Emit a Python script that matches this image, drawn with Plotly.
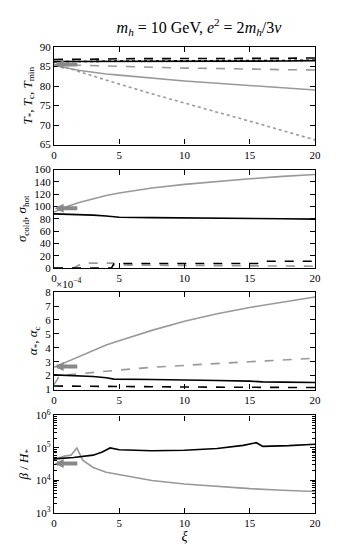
import math
import plotly.graph_objects as go
from plotly.subplots import make_subplots

# ---------- data ----------
xi = [0, 1, 2, 3, 4, 5, 7.5, 10, 12.5, 15, 17.5, 20]

# Panel 1: temperatures
T_star_hot = [85.5, 84.6, 84.0, 83.5, 83.1, 82.8, 82.0, 81.3, 80.7, 80.1, 79.5, 79.0]       # grey solid
T_c_hot = [85.5, 85.4, 85.3, 85.2, 85.1, 85.0, 84.8, 84.6, 84.5, 84.3, 84.2, 84.1]           # grey dashed
T_min_hot = [85.5, 84.7, 83.6, 82.5, 81.5, 80.5, 78.0, 75.6, 73.3, 71.0, 68.6, 66.2]         # grey dotted
T_star_cold = [86.3, 86.3, 86.3, 86.3, 86.3, 86.3, 86.4, 86.4, 86.4, 86.4, 86.4, 86.5]      # black solid
T_c_cold = [86.8, 86.8, 86.9, 86.9, 86.9, 87.0, 87.0, 87.0, 87.1, 87.1, 87.1, 87.2]         # black dashed
T_min_cold = [86.2, 86.3, 86.3, 86.3, 86.4, 86.4, 86.4, 86.5, 86.5, 86.5, 86.6, 86.6]       # black dotted

# Panel 2: sigma
sig_hot = [91, 100, 107, 113, 118, 122, 130, 136, 141, 145, 149, 152]                         # grey solid
sig_cold = [88, 87.5, 87, 86, 84.5, 82.5, 82, 81.8, 81.3, 80.5, 80, 79.5]                     # black solid
xi_sd = [0, 1.5, 2.2, 4.5, 4.6, 10, 15, 20]
sig_hot_d = [0, 0, 8, 8, 5, 4.5, 4, 3]                                                        # grey dashed
xi_cd = [0, 4.4, 4.6, 15.6, 15.9, 20]
sig_cold_d = [0, 0, 7.5, 7.5, 11, 11]                                                         # black dashed

# Panel 3: alpha (units of 1e-4)
alpha_hot = [2.6, 3.0, 3.4, 3.85, 4.2, 4.5, 5.25, 5.9, 6.45, 6.9, 7.3, 7.65]                 # grey solid
xi_ahd = [0, 0.4, 1, 2, 3, 5, 7.5, 10, 12.5, 15, 17.5, 20]
alpha_c_hot = [1.35, 1.95, 2.05, 2.15, 2.25, 2.4, 2.6, 2.75, 2.9, 3.0, 3.12, 3.25]           # grey dashed
xi_ac = [0, 1, 2, 3, 4, 4.6, 7.5, 10, 12.5, 15, 16, 17.5, 20]
alpha_cold = [2.05, 2.02, 1.98, 1.93, 1.85, 1.75, 1.72, 1.7, 1.65, 1.6, 1.55, 1.53, 1.5]     # black solid
alpha_c_cold = [1.25, 1.25, 1.24, 1.23, 1.22, 1.2, 1.2, 1.18, 1.17, 1.16, 1.15, 1.14]       # black dashed

# Panel 4: beta/H*
xi_bc = [0, 1.5, 3, 3.7, 4.3, 5, 7.5, 10, 12.5, 14.5, 15.5, 16, 18, 20]
beta_cold = [4.6e4, 5.1e4, 6.0e4, 7.5e4, 1.0e5, 8.8e4, 8.2e4, 8.5e4, 9.6e4, 1.2e5, 1.45e5, 1.12e5, 1.18e5, 1.3e5]
xi_bh = [0, 0.8, 1.3, 1.75, 2.2, 3, 4, 5, 7.5, 10, 12.5, 15, 17.5, 20]
beta_hot = [4.4e4, 5.6e4, 6.0e4, 1.0e5, 4.2e4, 2.5e4, 1.8e4, 1.5e4, 1.0e4, 7.8e3, 6.5e3, 5.6e3, 5.0e3, 4.6e3]

# arrow markers (xi=0 reference values)
arrow_vals = [85.5, 97, 2.65, 3.3e4]

xticks = [0, 5, 10, 15, 20]
log_major = [1e3, 1e4, 1e5, 1e6]
log_labels = ["10<sup>3</sup>", "10<sup>4</sup>", "10<sup>5</sup>", "10<sup>6</sup>"]
log_minor = [m * 10 ** e for e in (3, 4, 5) for m in range(2, 10)]

# ---------- figure ----------
BLACK = "#000000"
GREY = "#999999"
FONT = "Liberation Serif, DejaVu Serif, serif"

fig = make_subplots(rows=4, cols=1)

def add(row, x, y, color, dash):
    fig.add_trace(go.Scatter(x=x, y=y, mode="lines",
                             line=dict(color=color, width=1.6, dash=dash),
                             showlegend=False, hoverinfo="skip"), row=row, col=1)

add(1, xi, T_min_hot, GREY, "dot")
add(1, xi, T_star_hot, GREY, "solid")
add(1, xi, T_c_hot, GREY, "dash")
add(1, xi, T_star_cold, BLACK, "solid")
add(1, xi, T_c_cold, BLACK, "dash")
add(1, xi, T_min_cold, BLACK, "dot")

add(2, xi, sig_hot, GREY, "solid")
add(2, xi_sd, sig_hot_d, GREY, "dash")
add(2, xi, sig_cold, BLACK, "solid")
add(2, xi_cd, sig_cold_d, BLACK, "dash")

add(3, xi, alpha_hot, GREY, "solid")
add(3, xi_ahd, alpha_c_hot, GREY, "dash")
add(3, xi_ac, alpha_cold, BLACK, "solid")
add(3, xi, alpha_c_cold, BLACK, "dash")

add(4, xi_bh, beta_hot, GREY, "solid")
add(4, xi_bc, beta_cold, BLACK, "solid")

domains = [(0.7906, 1.0), (0.5256, 0.737), (0.265, 0.474), (0.0, 0.2094)]
axis_common = dict(showline=True, mirror="allticks", linecolor="black", linewidth=1.2,
                   ticks="inside", tickcolor="black", ticklen=5, tickwidth=1,
                   showgrid=False, zeroline=False,
                   tickfont=dict(family=FONT, size=11, color="black"))

yranges = [[65, 90], [0, 160], [1, 8], [3, 6]]
ydticks = [5, 20, 1, 1]
ytitles = ["<i>T</i><sub>*</sub>, <i>T</i><sub>c</sub>, <i>T</i><sub>min</sub>",
           "<i>σ</i><sub>cold</sub>, <i>σ</i><sub>hot</sub>",
           "<i>α</i><sub>*</sub>, <i>α</i><sub>c</sub>",
           "<i>β</i> / <i>H</i><sub>*</sub>"]

for i in range(4):
    r = i + 1
    xa = "xaxis" if r == 1 else f"xaxis{r}"
    ya = "yaxis" if r == 1 else f"yaxis{r}"
    fig.layout[xa].update(domain=[0, 1], range=[0, 20], tickvals=xticks, **axis_common)
    yax = dict(domain=list(domains[i]), range=yranges[i],
               title=dict(text=ytitles[i], font=dict(family=FONT, size=13, color="black"), standoff=4),
               **axis_common)
    if i == 3:
        yax.update(type="log", tickmode="array", tickvals=log_major, ticktext=log_labels,
                   minor=dict(ticks="inside", ticklen=3, tickcolor="black", tickwidth=1,
                              tickmode="array", tickvals=log_minor, showgrid=False))
    else:
        yax.update(tickmode="linear", tick0=0, dtick=ydticks[i])
    fig.layout[ya].update(**yax)

fig.layout.xaxis4.title = dict(text="<i>ξ</i>", font=dict(family=FONT, size=14, color="black"), standoff=2)

# grey arrows pointing at xi = 0
for i, v in enumerate(arrow_vals):
    r = i + 1
    xr = "x" if r == 1 else f"x{r}"
    yr = "y" if r == 1 else f"y{r}"
    yv = v if i != 3 else math.log10(v)
    fig.add_annotation(x=0.05, y=yv, ax=1.9, ay=yv, xref=xr, yref=yr, axref=xr, ayref=yr,
                       showarrow=True, arrowhead=2, arrowsize=0.45, arrowwidth=4,
                       arrowcolor="#888888", text="")

# x10^-4 label
fig.add_annotation(x=0, y=1.0, xref="x3 domain", yref="y3 domain", xanchor="left", yanchor="bottom",
                   text="×10<sup>−4</sup>", showarrow=False,
                   font=dict(family=FONT, size=11, color="black"))

fig.update_layout(
    width=341, height=545,
    margin=dict(l=46, r=34, t=39, b=38),
    paper_bgcolor="white", plot_bgcolor="white",
    title=dict(text="<i>m<sub>h</sub></i> = 10 GeV, <i>e</i><sup>2</sup> = 2<i>m<sub>h</sub></i>/3<i>v</i>",
               x=0.56, xanchor="center", y=0.965, yanchor="middle",
               font=dict(family=FONT, size=16, color="black")),
    font=dict(family=FONT, color="black"),
)

fig.write_html("out.html")
